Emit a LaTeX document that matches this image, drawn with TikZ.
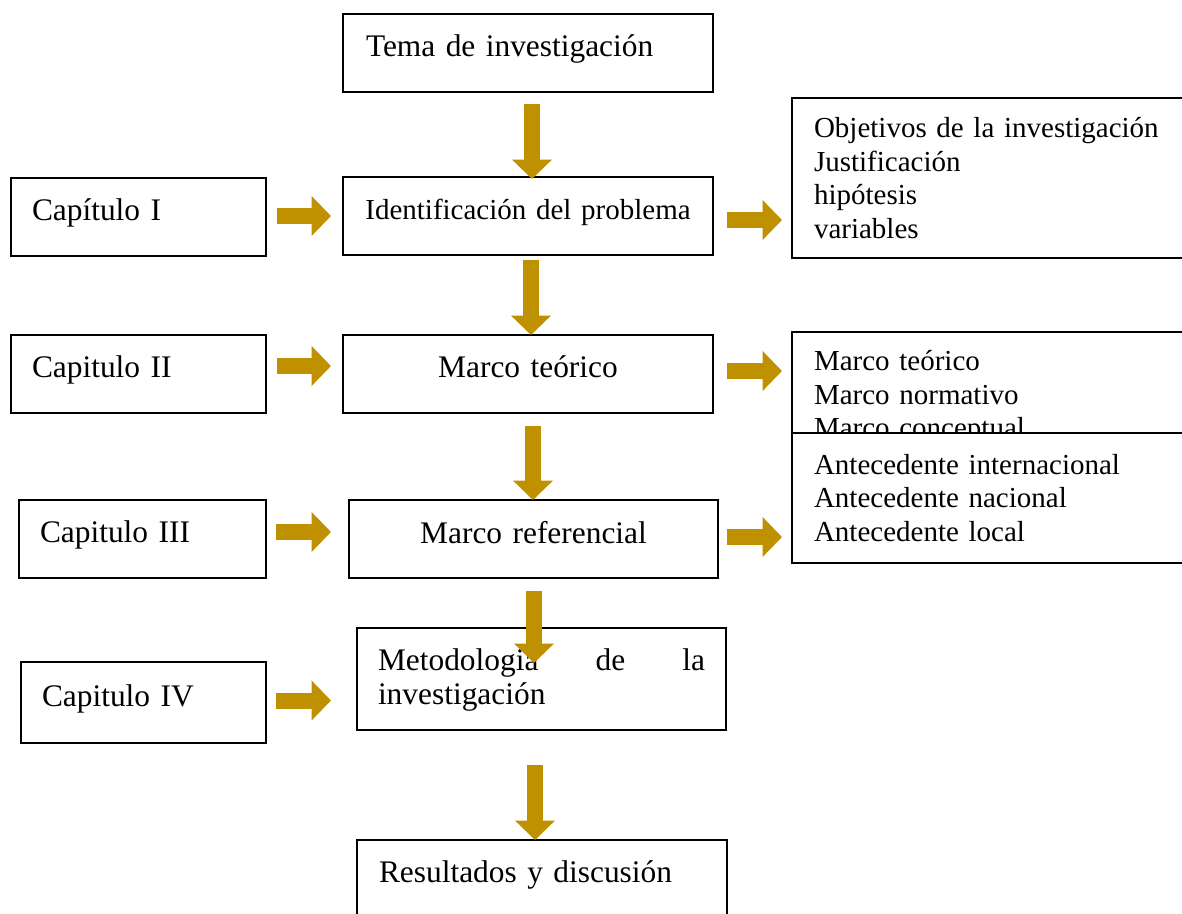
\documentclass[tikz,border=0pt]{standalone}
\usepackage{fontspec}
\setmainfont{Liberation Serif}
\usetikzlibrary{arrows.meta}
\definecolor{oro}{RGB}{191,144,0}
\tikzset{
    caja/.style={draw, line width=1.8pt, inner sep=0pt, outer sep=0pt, minimum height=78pt, text depth=14pt, align=left, font=\fontsize{31.4}{33.5}\selectfont},
    lista/.style={draw, line width=1.8pt, inner sep=0pt, outer sep=0pt, minimum width=400pt, minimum height=130pt, text width=356pt, align=left, font=\fontsize{29}{33.5}\selectfont},
    flecha/.style={draw=oro, line width=16pt, -{Triangle[length=19.5pt,width=39pt]}}
}
\begin{document}
\begin{tikzpicture}[x=1pt,y=-1pt]
        \useasboundingbox (0,0) rectangle (1182,913);
        \node[caja, minimum width=370pt, text width=324pt] (tema) at (528,53) {Tema de investigación};
        \node[caja, minimum width=370pt, text width=330pt, align=center, font=\fontsize{29}{33.5}\selectfont] (ident) at (528,216) {Identificación del problema};
        \node[caja, minimum width=255pt, text width=213pt] (cap1) at (138.5,217) {Capítulo I};
        \node[lista, minimum height=160pt] (objetivos) at (992,178) {Objetivos de la investigación\\Justificación\\hipótesis\\variables};
        \node[caja, minimum width=255pt, text width=213pt] (cap2) at (138.5,374) {Capitulo II};
        \node[caja, minimum width=370pt, text width=330pt, align=center] (marco) at (528,374) {Marco teórico};
        \node[lista] (marcos) at (992,397) {Marco teórico\\Marco normativo\\Marco conceptual};
        \node[lista, fill=white] (antecedentes) at (992,498) {Antecedente internacional\\Antecedente nacional\\Antecedente local};
        \node[caja, minimum width=247pt, text width=205pt] (cap3) at (142.5,539) {Capitulo III};
        \node[caja, minimum width=369pt, text width=330pt, align=center] (referencial) at (533.5,539) {Marco referencial};
        \node[caja, minimum width=245pt, minimum height=81pt, text width=203pt] (cap4) at (143.5,702.5) {Capitulo IV};
        \node[caja, minimum width=369pt, minimum height=102pt, text width=327pt, text depth=38pt, align=justify] (metodo) at (541.5,679) {Metodologia de la \mbox{investigación}};
        \node[caja, minimum width=370pt, text width=326pt] (resultados) at (542,879) {Resultados y discusión};
        \draw[flecha, shorten <=12pt, shorten >=-2pt] ([xshift=4pt]tema.south) -- ([xshift=4pt]tema.south |- ident.north);
        \draw[flecha, shorten <=5pt] ([xshift=3pt]ident.south) -- ([xshift=3pt]ident.south |- marco.north);
        \draw[flecha, shorten <=13pt] ([xshift=5pt]marco.south) -- ([xshift=5pt]marco.south |- referencial.north);
        \draw[flecha, shorten <=13pt, shorten >=-35pt] ([xshift=0.5pt]referencial.south) -- ([xshift=0.5pt]referencial.south |- metodo.north);
        \draw[flecha, shorten <=35pt] ([xshift=-6.5pt]metodo.south) -- ([xshift=-6.5pt]metodo.south |- resultados.north);
        \draw[flecha, shorten <=11pt, shorten >=12pt] ([yshift=1pt]cap1.east) -- ([yshift=1pt]cap1.east -| ident.west);
        \draw[flecha, shorten <=14pt, shorten >=10pt] ([yshift=-4pt]ident.east) -- ([yshift=-4pt]ident.east -| objetivos.west);
        \draw[flecha, shorten <=11pt, shorten >=12pt] ([yshift=8pt]cap2.east) -- ([yshift=8pt]cap2.east -| marco.west);
        \draw[flecha, shorten <=14pt, shorten >=10pt] ([yshift=3pt]marco.east) -- ([yshift=3pt]marco.east -| marcos.west);
        \draw[flecha, shorten <=10pt, shorten >=18pt] ([yshift=7pt]cap3.east) -- ([yshift=7pt]cap3.east -| referencial.west);
        \draw[flecha, shorten <=9pt, shorten >=10pt] ([yshift=2pt]referencial.east) -- ([yshift=2pt]referencial.east -| antecedentes.west);
        \draw[flecha, shorten <=10pt, shorten >=26pt] ([yshift=2pt]cap4.east) -- ([yshift=2pt]cap4.east -| metodo.west);
\end{tikzpicture}
\end{document}
